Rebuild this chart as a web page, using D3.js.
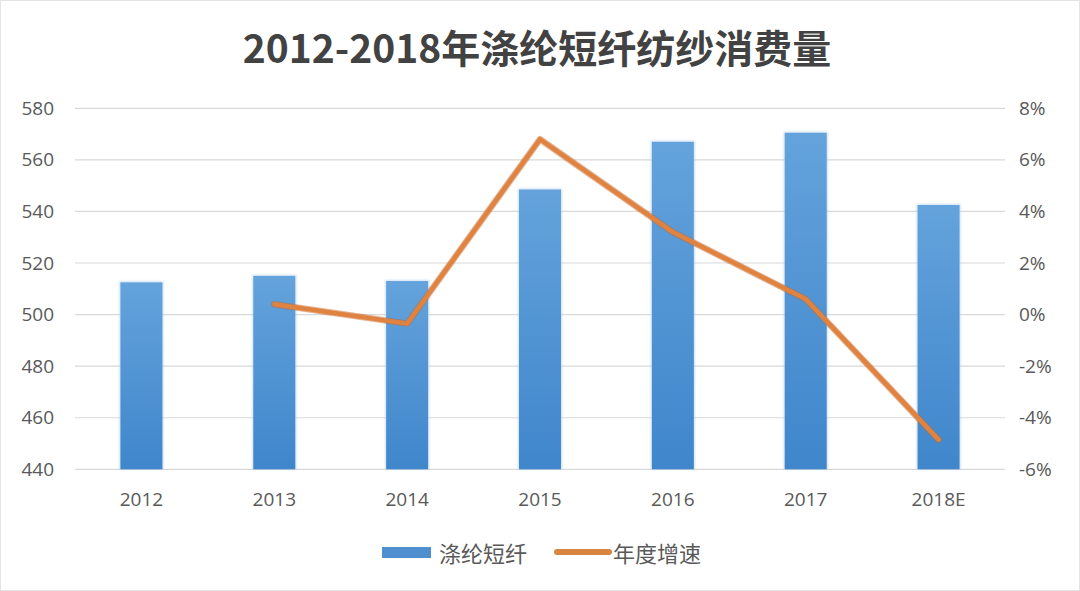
<!DOCTYPE html>
<html><head><meta charset="utf-8">
<script src="https://cdn.jsdelivr.net/npm/d3@7/dist/d3.min.js"></script>
<style>html,body{margin:0;padding:0;background:#fff;}svg{display:block;}</style>
</head><body>
<svg id="c" width="1080" height="591"></svg>
<script>
const categories = ["2012","2013","2014","2015","2016","2017","2018E"];
const consumption = [512.5, 515, 513, 548.5, 567, 570.5, 542.5];
const growth = [null, 0.4, -0.35, 6.8, 3.2, 0.6, -4.85];
const leftTicks = [440,460,480,500,520,540,560,580];
const rightTicks = [-6,-4,-2,0,2,4,6,8];
const title = "2012-2018年涤纶短纤纺纱消费量";
const seriesNames = ["涤纶短纤","年度增速"];

const svg = d3.select("#c");
const W=1080,H=591;
const m={l:75,r:75,t:108.3,b:121.7};
const x0=m.l, x1=W-m.r, y0=m.t, y1=H-m.b;
const font = "'Noto Sans CJK SC','Noto Sans',sans-serif";
const numFont = "'Open Sans','Noto Sans',sans-serif";

svg.append("rect").attr("x",0.5).attr("y",0.5).attr("width",W-1).attr("height",H-1)
  .attr("fill","#fff").attr("stroke","#e4e4e4");

const defs=svg.append("defs");
const g=defs.append("linearGradient").attr("id","bg").attr("x1",0).attr("y1",0).attr("x2",0).attr("y2",1);
g.append("stop").attr("offset","0%").attr("stop-color","#64a3dc");
g.append("stop").attr("offset","100%").attr("stop-color","#3f86cb");
const f=defs.append("filter").attr("id","glow").attr("x","-30%").attr("y","-10%").attr("width","160%").attr("height","120%");
f.append("feGaussianBlur").attr("stdDeviation",1.2);

const x=d3.scaleBand().domain(categories).range([x0,x1]).padding(0);
const yL=d3.scaleLinear().domain([440,580]).range([y1,y0]);
const yR=d3.scaleLinear().domain([-6,8]).range([y1,y0]);
const barW = x.bandwidth()*0.316;

// gridlines
svg.append("g").selectAll("line").data(leftTicks).join("line")
  .attr("x1",x0).attr("x2",x1).attr("y1",d=>yL(d)).attr("y2",d=>yL(d))
  .attr("stroke","#d9d9d9").attr("stroke-width",1.2);

// left axis
const axL=svg.append("g").attr("transform",`translate(${x0-21},0)`)
  .call(d3.axisLeft(yL).tickValues(leftTicks).tickSize(0).tickPadding(0));
axL.select(".domain").remove();
axL.selectAll("text").attr("font-family",numFont).attr("font-size",19).attr("fill","#595959");

// right axis
const axR=svg.append("g").attr("transform",`translate(${x1+14},0)`)
  .call(d3.axisRight(yR).tickValues(rightTicks).tickSize(0).tickPadding(0).tickFormat(d=>d+"%"));
axR.select(".domain").remove();
axR.selectAll("text").attr("font-family",numFont).attr("font-size",19).attr("fill","#595959");

// bottom axis
const axB=svg.append("g").attr("transform",`translate(0,${y1+21})`)
  .call(d3.axisBottom(x).tickSize(0).tickPadding(0));
axB.select(".domain").remove();
axB.selectAll("text").attr("font-family",numFont).attr("font-size",19).attr("fill","#595959").attr("dy","0.85em");

// bars
const bars=svg.append("g");
bars.selectAll("rect.s").data(categories).join("rect").attr("class","s")
  .attr("x",d=>x(d)+x.bandwidth()/2-barW/2-1).attr("width",barW+2)
  .attr("y",(d,i)=>yL(consumption[i])-1).attr("height",(d,i)=>y1-yL(consumption[i])+1)
  .attr("fill","#a9c9ea").attr("opacity",0.6).attr("filter","url(#glow)");
bars.selectAll("rect.b").data(categories).join("rect").attr("class","b")
  .attr("x",d=>x(d)+x.bandwidth()/2-barW/2).attr("width",barW)
  .attr("y",(d,i)=>yL(consumption[i])).attr("height",(d,i)=>y1-yL(consumption[i]))
  .attr("fill","url(#bg)");

// line
const pts=categories.map((c,i)=>({c,v:growth[i]})).filter(d=>d.v!==null);
const line=d3.line().x(d=>x(d.c)+x.bandwidth()/2).y(d=>yR(d.v));
svg.append("path").datum(pts).attr("d",line).attr("fill","none")
  .attr("stroke","#c8682a").attr("stroke-width",6.5).attr("stroke-linejoin","round").attr("stroke-linecap","round").attr("opacity",0.5);
svg.append("path").datum(pts).attr("d",line).attr("fill","none")
  .attr("stroke","#e08341").attr("stroke-width",4.5).attr("stroke-linejoin","round").attr("stroke-linecap","round");

// title
svg.append("text").attr("x",537).attr("y",63).attr("text-anchor","middle")
  .attr("font-family",font).attr("font-weight","bold").attr("font-size",39).attr("fill","#424242").text(title);

// legend
const lg=svg.append("g");
lg.append("rect").attr("x",382).attr("y",547).attr("width",49).attr("height",11).attr("fill","#4f8fd0");
lg.append("text").attr("x",439).attr("y",562).attr("font-family",font).attr("font-size",22).attr("fill","#595959").text(seriesNames[0]);
lg.append("line").attr("x1",557).attr("x2",609).attr("y1",552).attr("y2",552)
  .attr("stroke","#d9843f").attr("stroke-width",6).attr("stroke-linecap","round");
lg.append("text").attr("x",613).attr("y",562).attr("font-family",font).attr("font-size",22).attr("fill","#595959").text(seriesNames[1]);
</script>
</body></html>
